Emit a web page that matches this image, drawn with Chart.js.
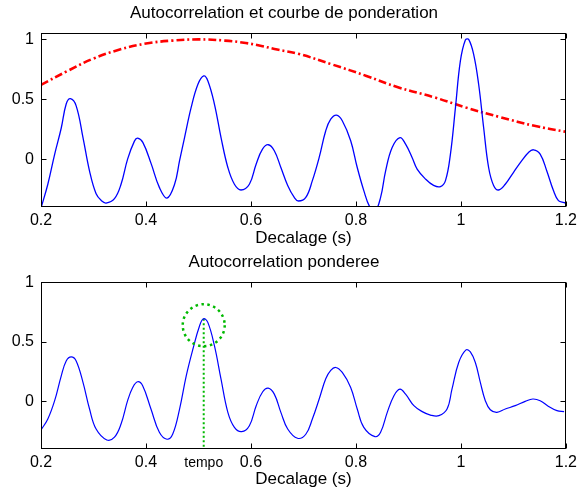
<!DOCTYPE html>
<html lang="fr">
<head>
<meta charset="utf-8">
<title>Autocorrelation</title>
<script src="https://cdn.jsdelivr.net/npm/chart.js@4.4.1/dist/chart.umd.min.js"></script>
<style>
  body { margin: 0; background: #fff; }
  .graphe { position: absolute; left: 0; }
</style>
</head>
<body>
<canvas id="grapheHaut" class="graphe" width="581" height="250" style="top:0"></canvas>
<canvas id="grapheBas" class="graphe" width="581" height="243" style="top:250px"></canvas>
<script>
// valeurs
const decalage = [0.2, 0.213, 0.226, 0.2386, 0.248, 0.256, 0.267, 0.28, 0.2925, 0.305, 0.315, 0.324, 0.34, 0.3525,
  0.365, 0.378, 0.384, 0.394, 0.41, 0.4255, 0.44, 0.4545, 0.464, 0.4735, 0.486, 0.499, 0.51, 0.518, 0.5305,
  0.543, 0.556, 0.5685, 0.581, 0.597, 0.61, 0.622, 0.633, 0.6445, 0.657, 0.67, 0.6825, 0.6905, 0.7045, 0.717, 0.73,
  0.7425, 0.752, 0.763, 0.774, 0.79, 0.8025, 0.815, 0.826, 0.836, 0.847, 0.8565, 0.869, 0.884, 0.8946, 0.907, 0.9166,
  0.9326, 0.948, 0.961, 0.9706, 0.98, 0.9896, 0.999, 1.0085, 1.0148, 1.0243, 1.0338, 1.0433, 1.0528, 1.0623, 1.0718,
  1.0845, 1.1003, 1.116, 1.1288, 1.1383, 1.151, 1.1635, 1.1763, 1.1858, 1.1966, 1.2];
const autocorr = [-0.41, -0.21, 0.04, 0.26, 0.46, 0.505, 0.445, 0.18, -0.10, -0.29, -0.347, -0.367, -0.33, -0.21,
  0.0, 0.15, 0.175, 0.14, -0.04, -0.236, -0.325, -0.21, -0.013, 0.18, 0.43, 0.625, 0.695, 0.653, 0.458,
  0.18, -0.07, -0.21, -0.258, -0.21, -0.04, 0.083, 0.12, 0.07, -0.07, -0.22, -0.32, -0.35, -0.32, -0.18, 0.014,
  0.237, 0.333, 0.367, 0.32, 0.153, -0.07, -0.263, -0.397, -0.44, -0.32, -0.10, 0.097, 0.18, 0.125, 0.014, -0.083,
  -0.167, -0.22, -0.23, -0.18, 0.04, 0.43, 0.82, 0.995, 1.0, 0.875, 0.625, 0.264, -0.07, -0.22, -0.258,
  -0.21, -0.11, -0.013, 0.056, 0.078, 0.042, -0.097, -0.263, -0.347, -0.363, -0.365];

const decalagePond = [0.2, 0.25, 0.3, 0.35, 0.4, 0.45, 0.5, 0.55, 0.59, 0.62, 0.65, 0.69, 0.755, 0.82, 0.88, 0.95,
  1.01, 1.075, 1.14, 1.2];
const ponderation = [0.62, 0.735, 0.84, 0.915, 0.965, 0.99, 1.0, 0.99, 0.97, 0.945, 0.915, 0.88, 0.79, 0.695, 0.6,
  0.515, 0.43, 0.35, 0.278, 0.228];

const decalageBas = [0.2, 0.213, 0.226, 0.2386, 0.248, 0.2576, 0.267, 0.28, 0.2925, 0.305, 0.3254, 0.34, 0.3525,
  0.365, 0.3747, 0.384, 0.3937, 0.4095, 0.4255, 0.44, 0.451, 0.464, 0.4767, 0.4893, 0.502, 0.5096, 0.518,
  0.5305, 0.543, 0.556, 0.5685, 0.5823, 0.597, 0.61, 0.6224, 0.633, 0.6445, 0.657, 0.67, 0.6887, 0.7045, 0.717,
  0.73, 0.7425, 0.752, 0.7615, 0.774, 0.79, 0.8025, 0.815, 0.8363, 0.847, 0.8597, 0.8724, 0.8838, 0.8946, 0.9104,
  0.9263, 0.942, 0.958, 0.9736, 0.983, 0.9958, 1.0097, 1.018, 1.0275, 1.037, 1.0465, 1.056, 1.0686, 1.0845, 1.1035,
  1.1225, 1.137, 1.151, 1.167, 1.183, 1.1966];
const autocorrPonderee = [-0.24, -0.148, 0.006, 0.215, 0.34, 0.374, 0.34, 0.16, -0.064, -0.232, -0.324, -0.30, -0.19,
  0.006, 0.117, 0.165, 0.131, -0.064, -0.26, -0.318, -0.274, -0.064, 0.215, 0.438, 0.634, 0.695, 0.662,
  0.466, 0.187, -0.092, -0.218, -0.254, -0.204, -0.036, 0.081, 0.111, 0.061, -0.092, -0.232, -0.31, -0.276, -0.148,
  0.02, 0.19, 0.26, 0.285, 0.243, 0.117, -0.064, -0.218, -0.296, -0.26, -0.092, 0.048, 0.103, 0.061, -0.036,
  -0.086, -0.115, -0.12, -0.064, 0.103, 0.327, 0.433, 0.416, 0.327, 0.16, 0.006, -0.07, -0.092, -0.064, -0.036,
  0.0, 0.02, 0.006, -0.042, -0.078, -0.086];

// tempo : position du pic retenu
const tempoDecalage = [0.51];
const tempoPic = [0.695];
const tempoCercle = [0.64];

const ticksX = [0.2, 0.4, 0.6, 0.8, 1, 1.2];
const labelsX = ['0.2', '0.4', '0.6', '0.8', '1', '1.2'];
const ticksXBas = [0.2, 0.4, 0.51, 0.6, 0.8, 1, 1.2];
const labelsXBas = ['0.2', '0.4', 'tempo', '0.6', '0.8', '1', '1.2'];
const ticksY = [0, 0.5, 1];
const labelsY = ['0', '0.5', '1'];

const police = "'Liberation Sans', Arial, Helvetica, sans-serif";
const bleu = '#0000ff';
const rouge = '#ff0000';
const vert = 'rgb(0,185,0)';

function points(xs, ys) {
    return xs.map((x, i) => ({ x: x, y: ys[i] }));
}

// cadre noir + graduations vers l'interieur, comme sous Matlab
const cadreMatlab = {
    id: 'cadreMatlab',
    afterDatasetsDraw(chart, args, opts) {
        const { ctx, chartArea: a, scales } = chart;
        const g = Math.round(a.left) + 0.5, d = Math.round(a.right) - 0.5;
        const h = Math.round(a.top) + 0.5, b = Math.round(a.bottom) - 0.5;
        const lg = 5;
        ctx.save();
        ctx.strokeStyle = '#000';
        ctx.lineWidth = 1;
        ctx.beginPath();
        opts.ticksX.forEach(v => {
            const px = Math.round(scales.x.getPixelForValue(v)) + 0.5;
            ctx.moveTo(px, b); ctx.lineTo(px, b - lg);
            ctx.moveTo(px, h); ctx.lineTo(px, h + lg);
        });
        opts.ticksY.forEach(v => {
            const py = Math.round(scales.y.getPixelForValue(v)) + 0.5;
            ctx.moveTo(g, py); ctx.lineTo(g + lg, py);
            ctx.moveTo(d, py); ctx.lineTo(d - lg, py);
        });
        ctx.stroke();
        ctx.strokeRect(g, h, d - g, b - h);
        ctx.restore();
    }
};

// cercle pointille autour du pic du tempo
const cercleTempo = {
    id: 'cercleTempo',
    afterDatasetsDraw(chart) {
        const { ctx, scales } = chart;
        const cx = scales.x.getPixelForValue(tempoDecalage[0]);
        const cy = scales.y.getPixelForValue(tempoCercle[0]);
        ctx.save();
        ctx.strokeStyle = vert;
        ctx.lineWidth = 2.5;
        ctx.setLineDash([2.5, 3.5]);
        ctx.beginPath();
        ctx.arc(cx, cy, 21, 0, Math.PI * 2);
        ctx.stroke();
        ctx.restore();
    }
};

function dessinerGraphe(canvasId, datasets, titre, yMin, yMax, tx, lx, cfg, extras) {
    const ctx = document.getElementById(canvasId).getContext('2d');
    return new Chart(ctx, {
        type: 'scatter',
        data: { datasets: datasets },
        options: {
            responsive: false,
            animation: false,
            layout: { padding: { left: 0, right: 13, top: 0, bottom: 0 } },
            elements: { point: { radius: 0 } },
            plugins: {
                legend: { display: false },
                tooltip: { enabled: false },
                title: {
                    display: true,
                    text: titre,
                    color: '#000',
                    font: { family: police, size: 17, weight: 'normal' },
                    padding: cfg.titrePadding
                },
                cadreMatlab: { ticksX: ticksX, ticksY: ticksY }
            },
            scales: {
                x: {
                    type: 'linear',
                    min: 0.2,
                    max: 1.2,
                    grid: { display: false, drawTicks: false },
                    border: { display: false },
                    afterBuildTicks: s => { s.ticks = tx.map(v => ({ value: v })); },
                    afterFit: s => { s.height = cfg.hauteurX; },
                    ticks: {
                        autoSkip: false,
                        maxRotation: 0,
                        padding: 4,
                        color: '#000',
                        font: c => (c.tick && c.tick.label === 'tempo')
                            ? { family: police, size: 14, lineHeight: 1.45 }
                            : { family: police, size: 16 },
                        callback: (v, i) => lx[i]
                    },
                    title: {
                        display: true,
                        text: 'Decalage (s)',
                        color: '#000',
                        font: { family: police, size: 17 },
                        padding: { top: 0, bottom: cfg.xlabelBas }
                    }
                },
                y: {
                    type: 'linear',
                    min: yMin,
                    max: yMax,
                    grid: { display: false, drawTicks: false },
                    border: { display: false },
                    afterBuildTicks: s => { s.ticks = ticksY.map(v => ({ value: v })); },
                    afterFit: s => { s.width = 41; },
                    ticks: {
                        padding: 7,
                        color: '#000',
                        font: { family: police, size: 16 },
                        callback: (v, i) => labelsY[i]
                    }
                }
            }
        },
        plugins: [cadreMatlab].concat(extras)
    });
}

dessinerGraphe('grapheHaut', [
    {
        data: points(decalage, autocorr),
        showLine: true,
        borderColor: bleu,
        borderWidth: 1.3,
        tension: 0.4,
        order: 0
    },
    {
        data: points(decalagePond, ponderation),
        showLine: true,
        borderColor: rouge,
        borderWidth: 2.6,
        borderDash: [8, 3, 2, 3],
        tension: 0.4,
        order: 1
    }
], 'Autocorrelation et courbe de ponderation', -0.4, 1.05, ticksX, labelsX,
   { titrePadding: { top: 3, bottom: 10 }, hauteurX: 43, xlabelBas: 1 }, []);

dessinerGraphe('grapheBas', [
    {
        data: points(decalageBas, autocorrPonderee),
        showLine: true,
        borderColor: bleu,
        borderWidth: 1.2,
        tension: 0.4,
        order: 0
    },
    {
        data: points([tempoDecalage[0], tempoDecalage[0]], [tempoPic[0], -0.4]),
        showLine: true,
        borderColor: vert,
        borderWidth: 2,
        borderDash: [2, 2.5],
        order: 1
    }
], 'Autocorrelation ponderee', -0.4, 1, ticksXBas, labelsXBas,
   { titrePadding: { top: 2, bottom: 10 }, hauteurX: 44, xlabelBas: 3 }, [cercleTempo]);
</script>
</body>
</html>
